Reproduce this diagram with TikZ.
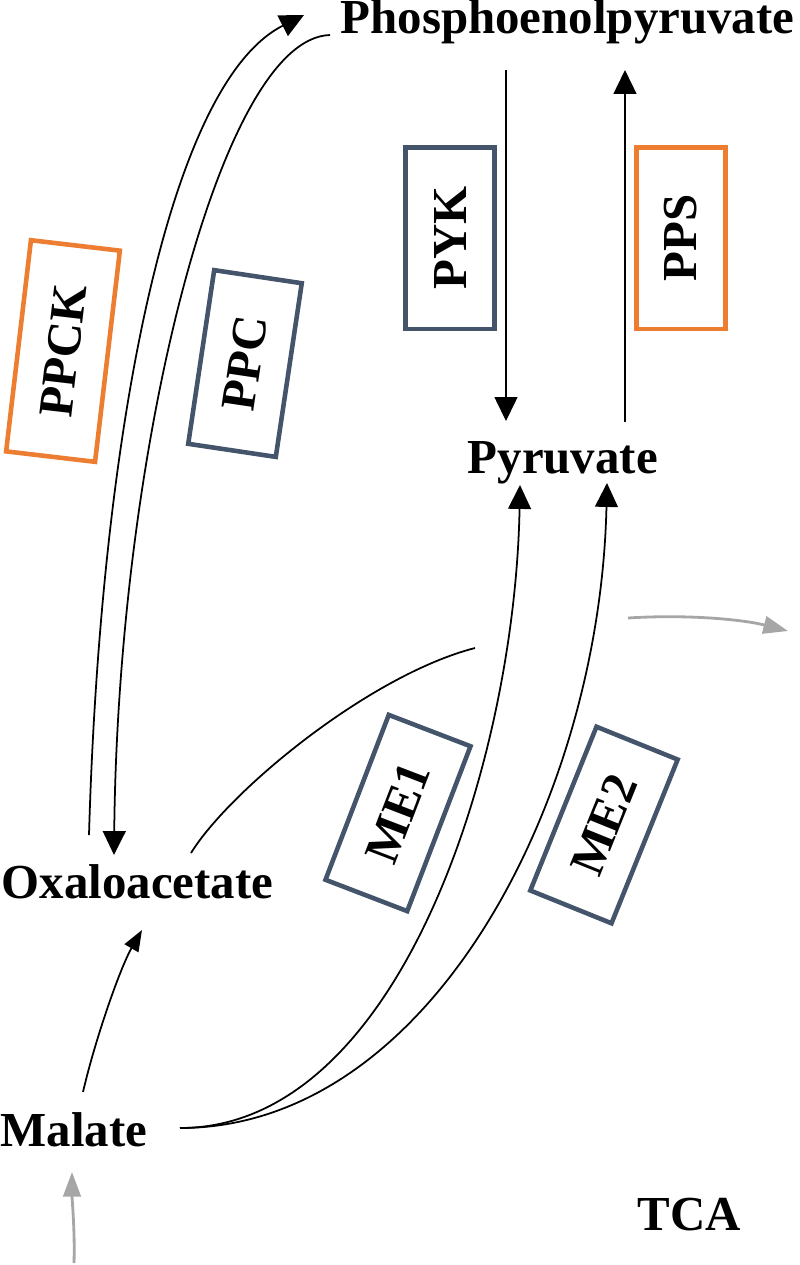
\documentclass[tikz,border=0pt]{standalone}
\usepackage{fontspec}
\setmainfont{Liberation Serif}
\usepackage{xcolor}
\usepackage{tikz}
\usetikzlibrary{arrows.meta, calc}

\definecolor{slate}{HTML}{44546A}
\definecolor{ora}{HTML}{ED7D31}
\definecolor{tcagray}{HTML}{A6A6A6}
\newcommand{\metfont}{\fontsize{13.9}{16}\selectfont\bfseries}

\begin{document}
\begin{tikzpicture}[
    x=0.01cm, y=-0.01cm,
    met/.style={inner sep=0pt, anchor=base west, font=\metfont},
    enz/.style={draw, line width=1.3pt, inner sep=0pt, minimum width=1.815cm, minimum height=0.895cm, font=\metfont},
    arr/.style={-{Triangle[length=6.8pt, width=6.5pt]}, line width=0.5pt},
    sarr/.style={-{Triangle[length=6pt, width=4.5pt]}, line width=0.5pt},
    garr/.style={-{Triangle[length=7pt, width=5pt]}, line width=0.8pt, color=tcagray},
  ]
    \useasboundingbox (0,0) rectangle (800,1265);

    % metabolites
    \node[met] (pep) at (340,33) {Phosphoenolpyruvate};
    \node[met] (pyr) at (467,473) {Pyruvate};
    \node[met] (oaa) at (1,898) {Oxaloacetate};
    \node[met] (mal) at (0,1146) {Malate};
    \node[met] (tca) at (637,1230) {TCA};

    % enzymes
    \node[enz, draw=ora, rotate=83.3, minimum width=2.125cm] (ppck) at (63,351) {PPCK};
    \node[enz, draw=slate, rotate=81.5, minimum width=1.755cm, minimum height=0.885cm] (ppc) at (245,363.5) {PPC};
    \node[enz, draw=slate, rotate=90] (pyk) at (450,238) {PYK};
    \node[enz, draw=ora, rotate=90] (pps) at (681,238) {PPS};
    \node[enz, draw=slate, rotate=69, minimum width=1.765cm, minimum height=0.875cm] (meone) at (398,813) {ME1};
    \node[enz, draw=slate, rotate=68, minimum width=1.765cm, minimum height=0.875cm] (metwo) at (604,825) {ME2};

    \coordinate (tcain) at (475,648);
    \coordinate (tcaa) at (628,618);
    \coordinate (tcab) at (788,631);
    \coordinate (tcafrom) at (74,1263);

    % reactions
    \draw[arr] ($(oaa.base west)+(88,-63)$) .. controls (100,450) and (165,85) .. ($(pep.base west)+(-36,-18)$);
    \draw[arr] ($(pep.base west)+(-10,2)$) .. controls (220,38) and (118,450) .. ($(oaa.base west)+(113,-43)$);
    \draw[arr] ($(pep.base west)+(166,37)$) -- ($(pyr.base west)+(39,-52)$);
    \draw[arr] ($(pyr.base west)+(158,-51)$) -- ($(pep.base west)+(285,37)$);
    \draw[sarr] ($(mal.base west)+(83,-54)$) .. controls (95,1040) and (120,968) .. ($(oaa.base west)+(141,32)$);
    \draw[arr] ($(mal.base west)+(180,-18)$) .. controls (400,1128) and (515,760) .. ($(pyr.base west)+(53,12)$);
    \draw[arr] ($(mal.base west)+(180,-18)$) .. controls (430,1128) and (600,800) .. ($(pyr.base west)+(140,10)$);
    \draw[line width=0.5pt] ($(oaa.base west)+(190,-45)$) .. controls (230,790) and (370,675) .. (tcain);
    \draw[garr] (tcaa) .. controls (690,614) and (745,620) .. (tcab);
    \draw[garr] (tcafrom) .. controls (75,1230) and (72,1200) .. ($(mal.base west)+(72,26)$);
  \end{tikzpicture}
\end{document}
